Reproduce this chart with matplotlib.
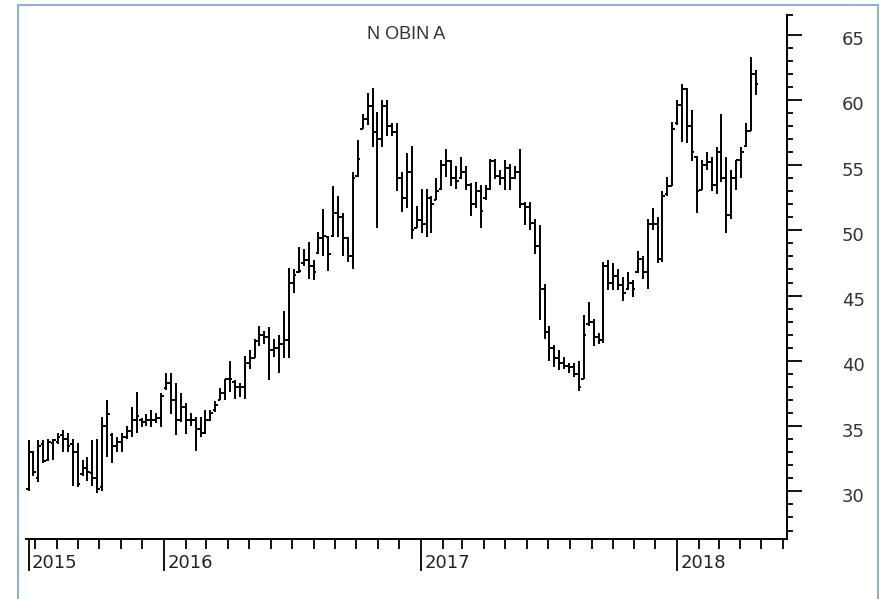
import matplotlib
matplotlib.use("Agg")
import matplotlib.pyplot as plt
import matplotlib.dates as mdates
import matplotlib.transforms as mtransforms
from matplotlib.lines import Line2D
import pandas as pd

# Veckodata, NOBINA A
titel = "N OBIN A"
forsta_vecka = "2015-06-22"

highs = [33.9, 33.1, 33.9, 33.9, 34.0, 34.0, 34.5, 34.7, 34.5, 34.0,
         33.7, 32.4, 32.6, 33.9, 34.0, 35.7, 37.0, 34.5, 34.2, 34.5,
         35.0, 36.5, 37.6, 35.6, 35.9,
         36.2, 36.0, 37.5, 39.1, 39.1, 38.3, 37.5, 36.8, 36.0, 35.7,
         35.7, 36.2, 36.2, 36.9, 37.9, 38.6, 40.0, 38.5, 38.3, 40.4,
         40.8, 41.7, 42.7, 42.3, 42.6, 41.7,
         42.0, 43.8, 47.1, 47.0, 48.7, 48.6, 49.1, 47.7, 49.9, 51.6,
         49.6, 53.4, 52.6, 51.3, 49.5, 54.5, 56.9, 58.9, 60.5, 60.9,
         59.1, 60.0, 60.0, 58.2, 58.2,
         54.5, 55.9, 56.5, 51.9, 53.2, 53.2, 52.6, 54.0, 55.4, 56.2,
         55.4, 54.9, 55.6, 54.9, 53.6, 53.7, 53.5, 53.5, 55.5, 55.5,
         54.6, 55.4, 55.1, 54.9, 56.2,
         52.2, 52.2, 50.9, 50.4, 45.9, 42.7, 41.2, 40.8, 40.3, 39.8,
         39.8, 40.0, 43.5, 44.5, 43.2, 42.1, 47.6, 47.7, 47.5, 47.0,
         46.4, 46.8, 46.2, 48.4,
         48.0, 50.9, 51.7, 51.0, 53.0, 54.1, 58.3, 60.0, 61.2, 60.9,
         59.2, 55.7, 55.4, 56.0, 55.6, 56.4, 58.9, 55.6, 54.6, 55.4,
         56.4, 58.2, 63.3, 62.3]

lows = [30.0, 31.2, 30.7, 32.2, 32.3, 32.4, 33.6, 33.0, 33.0, 30.4,
        30.3, 31.2, 30.8, 30.4, 29.9, 30.0, 32.6, 32.2, 33.0, 33.0,
        34.0, 34.2, 34.5, 34.9, 35.0,
        34.9, 35.2, 34.9, 37.8, 35.9, 34.3, 35.3, 34.4, 35.0, 33.1,
        34.2, 34.4, 35.4, 36.1, 37.0, 37.0, 37.6, 37.1, 37.2, 37.1,
        39.4, 40.2, 41.1, 41.3, 38.5, 40.3,
        39.1, 40.2, 40.2, 45.2, 46.7, 47.3, 46.3, 46.2, 48.2, 48.0,
        46.9, 49.5, 49.5, 48.0, 47.6, 47.0, 54.1, 57.8, 58.1, 56.4,
        50.2, 56.4, 57.2, 57.2, 53.0,
        51.4, 51.7, 49.3, 50.2, 49.8, 49.5, 49.8, 52.3, 53.1, 54.1,
        53.4, 53.2, 53.9, 53.1, 51.1, 51.7, 50.2, 52.3, 53.1, 53.9,
        53.5, 53.1, 53.1, 53.9, 51.7,
        50.4, 50.0, 48.2, 43.1, 41.7, 40.0, 39.5, 39.3, 39.4, 39.1,
        38.8, 37.7, 38.6, 42.7, 41.1, 41.3, 41.4, 45.4, 45.4, 45.4,
        44.6, 45.4, 44.9, 46.7,
        46.3, 45.5, 50.0, 47.5, 47.6, 52.6, 53.4, 58.1, 56.8, 56.7,
        55.3, 51.3, 53.1, 54.6, 53.0, 52.8, 53.7, 49.8, 50.9, 53.1,
        54.0, 56.4, 57.6, 60.4]

opens = [30.2, 33.0, 31.0, 33.6, 32.4, 33.7, 33.8, 34.3, 34.0, 33.6,
         33.0, 31.3, 31.8, 31.4, 31.0, 30.3, 35.0, 34.3, 33.5, 33.8,
         34.2, 34.6, 35.5, 35.5, 35.3,
         35.5, 35.5, 35.6, 37.9, 38.3, 37.0, 35.5, 36.5, 35.5, 35.5,
         34.8, 34.5, 35.5, 36.2, 37.0, 37.5, 38.6, 38.4, 38.0, 38.0,
         39.8, 40.2, 41.5, 42.0, 41.8, 40.8,
         41.0, 41.3, 41.6, 46.0, 46.8, 47.5, 47.7, 47.3, 48.3, 49.4,
         49.5, 49.6, 51.3, 51.0, 49.4, 48.0, 54.2, 57.8, 58.5, 59.5,
         57.5, 57.0, 59.5, 58.0, 57.5,
         54.0, 52.5, 54.5, 50.2, 50.8, 50.5, 52.5, 52.3, 53.2, 55.0,
         55.3, 54.0, 54.0, 54.5, 53.5, 52.0, 53.0, 52.5, 53.2, 55.3,
         54.2, 54.0, 54.8, 54.0, 54.5,
         52.0, 51.8, 50.6, 48.8, 45.5, 42.2, 41.0, 40.2, 39.8, 39.6,
         39.5, 39.0, 38.6, 42.8, 43.0, 41.8, 41.6, 47.3, 46.0, 46.5,
         45.8, 45.5, 46.0, 46.8,
         47.8, 46.8, 50.5, 50.5, 47.8, 52.8, 53.4, 58.2, 59.6, 60.8,
         58.0, 55.6, 53.1, 55.0, 55.2, 53.5, 56.0, 54.0, 51.2, 54.0,
         55.4, 56.5, 57.6, 62.0]

closes = [33.0, 31.5, 33.5, 32.3, 33.8, 33.9, 34.2, 34.0, 33.5, 33.0,
          30.6, 31.8, 31.5, 31.0, 30.2, 35.0, 35.9, 33.5, 33.8, 34.2,
          34.6, 35.5, 35.8, 35.3, 35.5,
          35.5, 35.6, 37.3, 38.3, 37.0, 35.5, 36.5, 35.5, 35.5, 34.8,
          34.5, 35.5, 36.0, 36.6, 37.5, 38.6, 38.6, 38.0, 38.0, 39.8,
          40.2, 41.5, 42.0, 41.8, 40.8, 41.0,
          41.3, 41.6, 46.0, 46.6, 46.9, 47.7, 47.3, 46.8, 49.4, 49.6,
          48.2, 51.3, 51.0, 49.4, 48.0, 54.0, 55.5, 58.5, 59.5, 57.5,
          57.0, 59.5, 58.0, 57.5, 54.0,
          52.5, 54.5, 50.0, 50.8, 50.5, 52.5, 52.0, 53.0, 55.0, 55.3,
          54.0, 53.8, 54.5, 53.5, 52.0, 53.0, 51.5, 53.2, 55.3, 54.2,
          54.0, 54.8, 54.0, 54.5, 52.0,
          51.8, 50.6, 48.8, 45.5, 42.2, 41.0, 40.2, 39.8, 39.6, 39.5,
          39.0, 38.0, 42.0, 43.0, 41.8, 41.6, 47.3, 46.0, 46.5, 45.8,
          45.2, 46.0, 45.5, 47.8,
          46.8, 50.5, 50.5, 47.8, 52.6, 53.4, 57.8, 59.6, 60.8, 58.0,
          56.0, 53.0, 55.0, 55.2, 53.5, 56.0, 54.0, 51.2, 54.0, 55.4,
          56.0, 57.6, 62.0, 61.2]

ar_etiketter = ["2015", "2016", "2017", "2018"]
pris_ticks = [30, 35, 40, 45, 50, 55, 60, 65]

# x = datum för varje vecka
datum = pd.date_range(forsta_vecka, periods=len(highs), freq="7D")
x = mdates.date2num(datum)

W, H = 881, 599
fig = plt.figure(figsize=(W / 100, H / 100), dpi=100)
ax = fig.add_axes([26 / W, 60 / H, 761 / W, 524 / H])

svart = "black"
lw = 1.4
ax.vlines(x, lows, highs, color=svart, linewidth=lw)
ax.hlines(opens, x - 3.5, x, color=svart, linewidth=lw)
ax.hlines(closes, x, x + 3.5, color=svart, linewidth=lw)

ax.set_xlim(mdates.date2num(pd.Timestamp("2015-06-18 10:00")),
            mdates.date2num(pd.Timestamp("2018-06-06 10:00")))
ax.set_ylim(26.35, 66.5)

# x-axel: år (långa streck) och månader (korta)
ar_pos = [x[0]] + [mdates.date2num(pd.Timestamp(f"{a}-01-01")) for a in ar_etiketter[1:]]
manader = [d for d in pd.date_range("2015-07-01", "2018-06-01", freq="MS") if d.month != 1]
ax.set_xticks(ar_pos)
ax.set_xticks(mdates.date2num(manader), minor=True)
ax.tick_params(axis="x", which="major", direction="out", length=23, width=1.3,
               labelbottom=False, color=svart)
ax.tick_params(axis="x", which="minor", direction="out", length=7.2, width=1.3,
               color=svart)
for pos, lab in zip(ar_pos, ar_etiketter):
    ax.annotate(lab, xy=(pos, 0), xycoords=("data", "axes fraction"),
                xytext=(2.3, -10.5), textcoords="offset points",
                ha="left", va="top", fontsize=13, color="#222222",
                family="DejaVu Sans")

# y-axel till höger
ax.yaxis.tick_right()
minor_y = [v for v in range(27, 65) if v % 5 != 0] + [66.5]
ax.set_yticks(pris_ticks)
ax.set_yticklabels([str(v) for v in pris_ticks])
ax.set_yticks(minor_y, minor=True)
ax.tick_params(axis="y", which="major", direction="out", length=10.8, width=1.3,
               pad=28.5, labelsize=13, labelcolor="#333333", color=svart)
ax.tick_params(axis="y", which="minor", direction="out", length=4.3, width=1.3,
               color=svart)
forskjut = mtransforms.ScaledTranslation(0, -3.5 / 100, fig.dpi_scale_trans)
for lab in ax.get_yticklabels():
    lab.set_transform(lab.get_transform() + forskjut)

for s in ["left", "top"]:
    ax.spines[s].set_visible(False)
for s in ["bottom", "right"]:
    ax.spines[s].set_linewidth(1.4)
    ax.spines[s].set_color(svart)

ax.text(0.5, 0.9637, titel, transform=ax.transAxes, ha="center", va="center",
        fontsize=13, color="#333333", family="Liberation Sans")

# ljusblå ram
ram = "#8fb1d4"
fig.add_artist(Line2D([18 / W, 18 / W], [0, 1 - 5 / H], transform=fig.transFigure,
                      color=ram, linewidth=1.5))
fig.add_artist(Line2D([18 / W, 878 / W], [1 - 5 / H, 1 - 5 / H], transform=fig.transFigure,
                      color=ram, linewidth=1.5))
fig.add_artist(Line2D([878 / W, 878 / W], [0, 1 - 5 / H], transform=fig.transFigure,
                      color=ram, linewidth=1.5))

fig.savefig("out.png", dpi=100, facecolor="white")
